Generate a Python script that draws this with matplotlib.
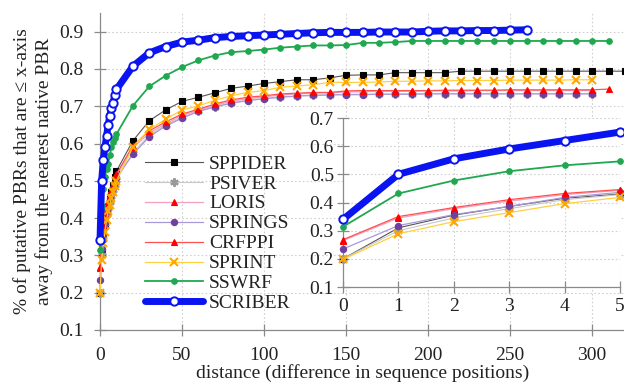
import numpy as np
import matplotlib
matplotlib.use("Agg")
import matplotlib.pyplot as plt

plt.rcParams['font.family'] = ['Liberation Serif', 'DejaVu Serif']

# distance values: 0..10 step 1, then 20..320 step 10
distance = list(range(0, 11)) + list(range(20, 330, 10))

sppider = [0.2, 0.31, 0.355, 0.386, 0.415, 0.43, 0.45, 0.47, 0.49, 0.51, 0.526,
           0.607, 0.661, 0.69, 0.713, 0.724, 0.736, 0.748, 0.754, 0.761, 0.766,
           0.771, 0.771, 0.776, 0.783, 0.784, 0.784, 0.79, 0.79, 0.79, 0.79,
           0.794, 0.794, 0.794, 0.794, 0.794, 0.794, 0.794, 0.794, 0.794, 0.794, 0.794]
psiver = [0.2, 0.30, 0.345, 0.378, 0.41, 0.428, 0.443, 0.46, 0.475, 0.49, 0.503,
          0.575, 0.622, 0.65, 0.67, 0.687, 0.699, 0.709, 0.716, 0.721, 0.725,
          0.728, 0.73, 0.731, 0.732, 0.732, 0.733, 0.733, 0.734,
          0.734, 0.734, 0.734, 0.734, 0.734, 0.734, 0.734, 0.734, 0.734, 0.734, 0.734]
loris = [0.265, 0.345, 0.378, 0.405, 0.428, 0.443, 0.457, 0.472, 0.487, 0.502, 0.515,
         0.588, 0.628, 0.653, 0.675, 0.689, 0.702, 0.713, 0.72, 0.725, 0.73,
         0.733, 0.735, 0.736, 0.738, 0.739, 0.74, 0.74, 0.74, 0.741, 0.741,
         0.741, 0.742, 0.742, 0.742, 0.742, 0.742, 0.742, 0.742, 0.742]
springs = [0.235, 0.318, 0.357, 0.386, 0.418, 0.436, 0.45, 0.465, 0.48, 0.495, 0.508,
           0.571, 0.618, 0.647, 0.668, 0.686, 0.698, 0.708, 0.715, 0.72, 0.724,
           0.727, 0.729, 0.73, 0.731, 0.731, 0.732, 0.732, 0.732,
           0.733, 0.733, 0.733, 0.733, 0.733, 0.733, 0.733, 0.733, 0.733, 0.733, 0.733]
crfppi = [0.268, 0.35, 0.382, 0.41, 0.432, 0.446, 0.46, 0.475, 0.49, 0.505, 0.518,
          0.594, 0.634, 0.658, 0.679, 0.692, 0.706, 0.717, 0.724, 0.728, 0.733,
          0.735, 0.737, 0.737, 0.741, 0.742, 0.742, 0.742, 0.742, 0.742, 0.743,
          0.743, 0.743, 0.743, 0.744, 0.744, 0.744, 0.744, 0.744, 0.744, 0.746]
sprint = [0.198, 0.289, 0.332, 0.364, 0.396, 0.418, 0.435, 0.455, 0.47, 0.485, 0.5,
          0.59, 0.638, 0.665, 0.69, 0.701, 0.716, 0.728, 0.737, 0.742, 0.751,
          0.754, 0.758, 0.764, 0.764, 0.764, 0.765, 0.767, 0.767, 0.768, 0.768,
          0.769, 0.769, 0.769, 0.77, 0.77, 0.77, 0.77, 0.771, 0.771]
sswrf = [0.314, 0.432, 0.478, 0.511, 0.532, 0.546, 0.57, 0.59, 0.605, 0.615, 0.625,
         0.701, 0.753, 0.782, 0.805, 0.823, 0.836, 0.845, 0.848, 0.852, 0.857,
         0.86, 0.863, 0.863, 0.864, 0.87, 0.87, 0.872,
         0.875, 0.875, 0.875, 0.875, 0.875, 0.875, 0.875, 0.875, 0.875, 0.875, 0.875, 0.875, 0.875]
scriber = [0.34, 0.50, 0.555, 0.59, 0.62, 0.65, 0.675, 0.695, 0.71, 0.73, 0.745,
           0.807, 0.843, 0.86, 0.872, 0.877, 0.884, 0.887, 0.889, 0.891, 0.893,
           0.895, 0.897, 0.898, 0.898, 0.898, 0.899, 0.899, 0.899, 0.901, 0.902,
           0.902, 0.903, 0.903, 0.904, 0.905]

# name, values, line colour, marker, marker colour, marker size, line width
series = [
    ("SPPIDER", sppider, "#555555", "s", "black", 5, 0.8),
    ("PSIVER", psiver, "#c8c8c8", (6, 2, 0), "#999999", 6, 0.8),
    ("LORIS", loris, "#f4a0c0", "^", "red", 5, 0.9),
    ("SPRINGS", springs, "#a898d8", "o", "#7040a0", 4.5, 0.9),
    ("CRFPPI", crfppi, "#ff5050", "^", "red", 5, 0.9),
    ("SPRINT", sprint, "#ffd040", "x", "#ffa800", 6, 0.9),
    ("SSWRF", sswrf, "#20a850", "o", "#20a850", 4, 1.3),
]

W, H = 624, 385
fig = plt.figure(figsize=(W / 100, H / 100), dpi=100)
ax = fig.add_axes([100 / W, (H - 330) / H, 525 / W, 317 / H])
ins = fig.add_axes([343 / W, (H - 287) / H, 277 / W, 169 / H])

txt = "#222222"
gray = "#8a8a8a"

def plot_all(a, n):
    for name, vals, lc, mk, mc, ms, lw in series:
        m = len(vals) if n is None else n
        a.plot(distance[:m], vals[:m], color=lc, lw=lw, marker=mk, ms=ms,
               mfc=mc, mec=mc, mew=1.5 if mk in ("x", (6, 2, 0)) else 0.8,
               label=name, clip_on=False, zorder=3)
    m = len(scriber) if n is None else n
    a.plot(distance[:m], scriber[:m], color="#0a14f0", lw=5, marker="o", ms=6,
           mfc="white", mec="#0a14f0", mew=1.4, label="SCRIBER",
           clip_on=False, zorder=4, solid_capstyle="round")

plot_all(ax, None)
plot_all(ins, 6)

for a in (ax, ins):
    for s in ("top", "right"):
        a.spines[s].set_visible(False)
    for s in ("left", "bottom"):
        a.spines[s].set_color(gray)
        a.spines[s].set_linewidth(0.9)
    a.tick_params(direction="inout", length=8, width=0.9, color=gray,
                  labelsize=14, labelcolor=txt)
    a.grid(True, linestyle=(0, (1.5, 2)), color="#d0d0d0", lw=0.8)
    a.set_axisbelow(True)

ax.tick_params(axis="both", pad=8)
ins.tick_params(axis="y", pad=2.5)
ins.tick_params(axis="x", pad=4)

ax.set_xlim(0, 320)
ax.set_ylim(0.1, 0.95)
ax.set_xticks([0, 50, 100, 150, 200, 250, 300])
ax.set_yticks([0.1, 0.2, 0.3, 0.4, 0.5, 0.6, 0.7, 0.8, 0.9])
ax.set_xlabel("distance (difference in sequence positions)", fontsize=14, color=txt)
ax.xaxis.set_label_coords(0.5, -48 / 317)
ax.xaxis.label.set_va("baseline")
ax.set_ylabel("% of putative PBRs that are ≤ x-axis\naway from the nearest native PBR",
              fontsize=14, color=txt, linespacing=1.3)
ax.yaxis.set_label_coords(-47 / 525, 0.5)

ins.set_xlim(0, 5)
ins.set_ylim(0.1, 0.7)
ins.set_xticks([0, 1, 2, 3, 4, 5])
ins.set_yticks([0.1, 0.2, 0.3, 0.4, 0.5, 0.6, 0.7])
ins.set_facecolor("white")

leg = ax.legend(loc="upper left", bbox_to_anchor=(145 / W, 1 - 155 / H),
                bbox_transform=fig.transFigure, frameon=False, fontsize=14,
                handlelength=3.0, handletextpad=0.3, labelspacing=0.12,
                borderpad=0, borderaxespad=0)
for t in leg.get_texts():
    t.set_color(txt)

fig.savefig("out.png", dpi=100)
